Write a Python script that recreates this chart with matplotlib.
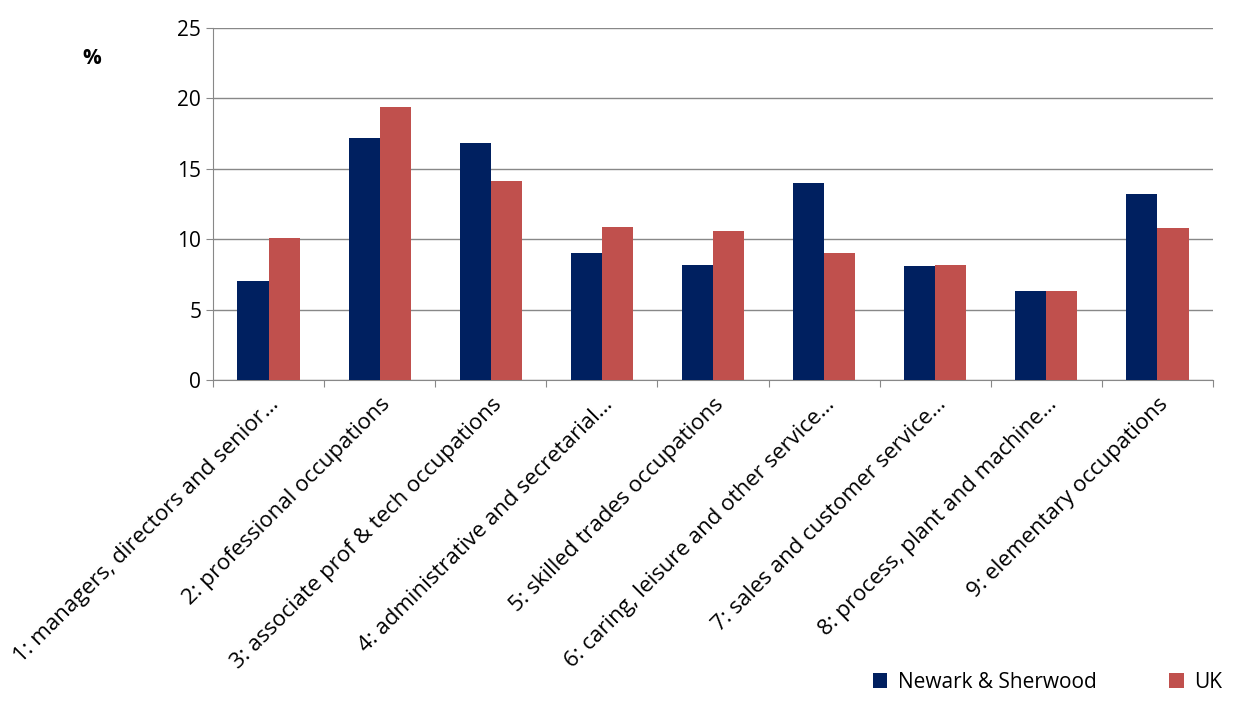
import numpy as np
import matplotlib
matplotlib.use("Agg")
import matplotlib.pyplot as plt

categories = ["1: managers, directors and senior…", "2: professional occupations",
              "3: associate prof & tech occupations", "4: administrative and secretarial…",
              "5: skilled trades occupations", "6: caring, leisure and other service…",
              "7: sales and customer service…", "8: process, plant and machine…",
              "9: elementary occupations"]
newark = [7.0, 17.2, 16.8, 9.0, 8.2, 14.0, 8.1, 6.3, 13.2]
uk = [10.1, 19.4, 14.1, 10.9, 10.6, 9.0, 8.2, 6.3, 10.8]

plt.rcParams['font.family'] = ['Open Sans', 'DejaVu Sans']
fig = plt.figure(figsize=(12.35, 7.01), dpi=100)
ax = fig.add_axes([213/1235, 1-380/701, 1000/1235, 352/701])

x = np.arange(len(categories))
w = 0.28
ax.bar(x - w/2, newark, w, color='#002060', label='Newark & Sherwood', zorder=3)
ax.bar(x + w/2, uk, w, color='#C0504D', label='UK', zorder=3)

ax.set_xlim(-0.5, len(categories) - 0.5)
ax.set_ylim(0, 25)
ax.set_yticks(range(0, 26, 5))
ax.yaxis.grid(True, color='#888888', linewidth=1, zorder=0)
ax.set_xticks(np.arange(-0.5, len(categories), 1), minor=False)
ax.set_xticklabels([])
ax.set_xticks(x, minor=True)
ax.set_xticklabels(categories, minor=True, rotation=45, ha='right', rotation_mode='anchor', fontsize=16)
ax.tick_params(axis='x', which='minor', length=0, pad=10)
ax.tick_params(axis='x', which='major', length=5, color='#888888')
ax.tick_params(axis='y', labelsize=15, length=5, color='#888888')
for s in ['top', 'right']:
    ax.spines[s].set_visible(False)
for s in ['left', 'bottom']:
    ax.spines[s].set_color('#888888')
fig.text(92/1235, 1-58/701, '%', fontsize=15, fontweight='bold', ha='center', va='center')
fig.legend(loc='lower right', bbox_to_anchor=(1.005, -0.015), ncol=2, frameon=False,
           fontsize=15, handlelength=0.7, handleheight=0.7, columnspacing=3.5, handletextpad=0.5)
fig.savefig('out.png', dpi=100)
